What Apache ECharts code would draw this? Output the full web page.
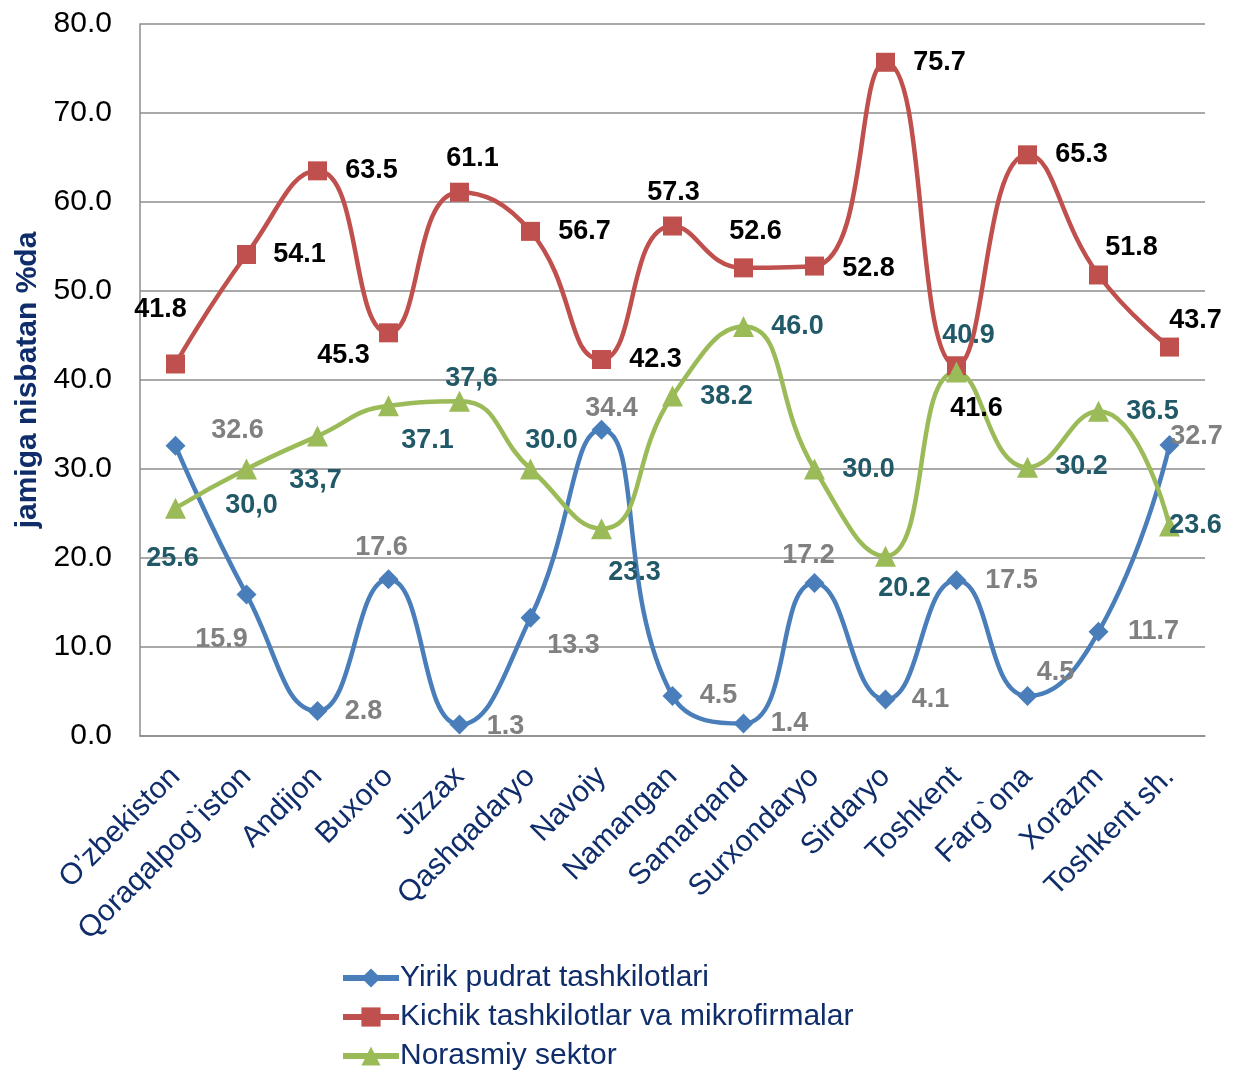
<!DOCTYPE html>
<html>
<head>
<meta charset="utf-8">
<script src="https://cdn.jsdelivr.net/npm/echarts@6/dist/echarts.min.js"></script>
<style>
  html, body { margin: 0; padding: 0; background: #fff; }
  #chart { width: 1239px; height: 1072px; }
</style>
</head>
<body>
<div id="chart"></div>
<script>
// hududlar
var regions = ['O’zbekiston', 'Qoraqalpog`iston', 'Andijon', 'Buxoro', 'Jizzax', 'Qashqadaryo', 'Navoiy',
    'Namangan', 'Samarqand', 'Surxondaryo', 'Sirdaryo', 'Toshkent', 'Farg`ona', 'Xorazm', 'Toshkent sh.'];

var yirikValues = [32.6, 15.9, 2.8, 17.6, 1.3, 13.3, 34.4, 4.5, 1.4, 17.2, 4.1, 17.5, 4.5, 11.7, 32.7];
var kichikValues = [41.8, 54.1, 63.5, 45.3, 61.1, 56.7, 42.3, 57.3, 52.6, 52.8, 75.7, 41.6, 65.3, 51.8, 43.7];
var norasmiyValues = [25.6, 30.0, 33.7, 37.1, 37.6, 30.0, 23.3, 38.2, 46.0, 30.0, 20.2, 40.9, 30.2, 36.5, 23.6];
// label texts as printed on the chart (some with comma)
var norasmiyLabels = ['25.6', '30,0', '33,7', '37.1', '37,6', '30.0', '23.3', '38.2', '46.0', '30.0', '20.2', '40.9', '30.2', '36.5', '23.6'];

var seriesNames = ['Yirik pudrat tashkilotlari', 'Kichik tashkilotlar va mikrofirmalar', 'Norasmiy sektor'];
var yTicks = [0, 10, 20, 30, 40, 50, 60, 70, 80];

// label offsets from the marker centre (px), one list per series
var labelOffsets = [
    [[62, -15], [-25, 45], [46, 0], [-7, -32], [46, 2], [43, 28], [10, -21], [46, 0],
        [46, 0], [-6, -27], [45, 0], [55, 0], [28, -23], [55, 0], [27, -8]],
    [[-15, -54], [53, 0], [54, 0], [-45, 23], [13, -34], [54, 0], [54, 0], [1, -33],
        [12, -36], [54, 2], [54, 0], [20, 43], [54, 0], [33, -27], [26, -27]],
    [[-3, 50], [5, 37], [-2, 44], [39, 35], [12, -23], [21, -28], [33, 44], [54, 1],
        [54, 0], [54, 1], [19, 32], [12, -36], [54, -1], [54, 0], [26, 0]]
];

var navy = '#0F2D6A';
var gridGray = '#8C8C8C';
var font = 'Liberation Sans, Arial, sans-serif';

function makeSeries(idx, values, color, symbol, size, labelColor, fmt) {
    return {
        name: seriesNames[idx],
        type: 'line',
        smooth: 0.5,
        data: values,
        symbol: symbol,
        symbolSize: size,
        lineStyle: { color: color, width: 4.5 },
        itemStyle: { color: color },
        label: {
            show: true,
            position: 'inside',
            color: labelColor,
            fontFamily: font,
            fontWeight: 'bold',
            fontSize: 27,
            formatter: fmt
        },
        labelLayout: function (params) {
            var o = labelOffsets[idx][params.dataIndex];
            return { dx: o[0], dy: o[1], hideOverlap: false };
        },
        z: 3
    };
}

var myChart = echarts.init(document.getElementById('chart'), null, { renderer: 'canvas' });

var option = {
    animation: false,
    backgroundColor: '#ffffff',
    textStyle: { fontFamily: font },
    grid: { left: 140, right: 34, top: 24, bottom: 336, containLabel: false, outerBoundsMode: 'none' },
    legend: {
        data: seriesNames,
        orient: 'vertical',
        left: 340,
        bottom: 1,
        padding: 0,
        itemWidth: 56,
        itemHeight: 24,
        itemGap: 9,
        lineStyle: { width: 6 },
        textStyle: { color: navy, fontSize: 30, fontFamily: font, padding: [0, 0, 0, -4] }
    },
    xAxis: {
        type: 'category',
        data: regions,
        boundaryGap: true,
        axisLine: { show: true, lineStyle: { color: gridGray, width: 1.5 } },
        axisTick: { show: false },
        axisLabel: {
            interval: 0,
            rotate: 45,
            margin: 36,
            color: navy,
            fontSize: 30,
            fontFamily: font
        }
    },
    yAxis: {
        type: 'value',
        min: yTicks[0],
        max: yTicks[yTicks.length - 1],
        interval: 10,
        name: 'jamiga nisbatan %da',
        nameLocation: 'middle',
        nameRotate: 90,
        nameGap: 97,
        nameTextStyle: { color: navy, fontSize: 30, fontWeight: 'bold', fontFamily: font },
        axisLine: { show: true, lineStyle: { color: gridGray, width: 1.5 } },
        axisTick: { show: false },
        splitLine: { show: true, lineStyle: { color: gridGray, width: 1.5 } },
        axisLabel: {
            margin: 28,
            color: '#000',
            fontSize: 30,
            fontFamily: font,
            formatter: function (v) { return v.toFixed(1); }
        }
    },
    series: [
        makeSeries(0, yirikValues, '#4A7EBB', 'diamond', 20, '#808080',
            function (p) { return p.value.toFixed(1); }),
        makeSeries(1, kichikValues, '#C0504D', 'rect', 19, '#000000',
            function (p) { return p.value.toFixed(1); }),
        makeSeries(2, norasmiyValues, '#9BBB59', 'triangle', 21, '#215968',
            function (p) { return norasmiyLabels[p.dataIndex]; })
    ]
};

myChart.setOption(option);
</script>
</body>
</html>
